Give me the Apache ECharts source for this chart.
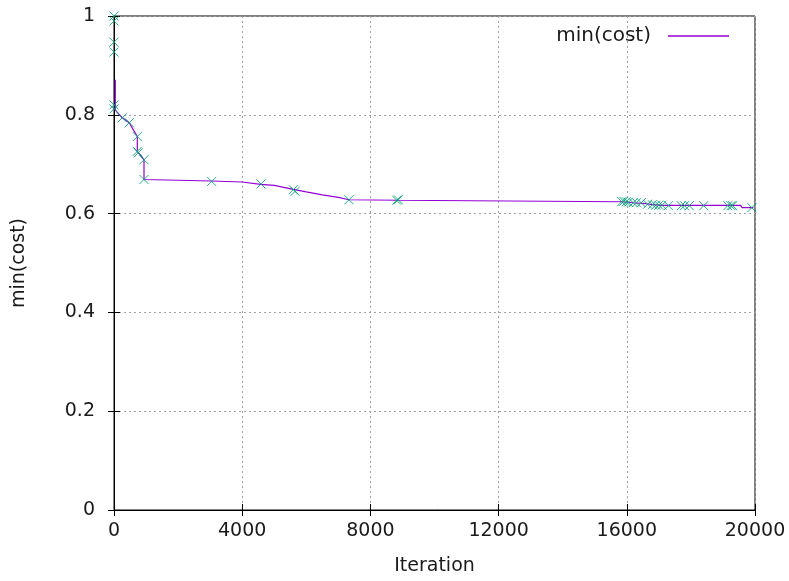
<!DOCTYPE html>
<html><head><meta charset="utf-8">
<script src="https://cdn.jsdelivr.net/npm/echarts@6/dist/echarts.min.js"></script>
<style>html,body{margin:0;padding:0;background:#fff}#c{width:789px;height:581px}</style>
</head><body><div id="c"></div>
<script>
const xTicks = [0, 4000, 8000, 12000, 16000, 20000];
const yTicks = [0, 0.2, 0.4, 0.6, 0.8, 1];
const lineIter = [40, 40, 100, 260, 477, 600, 727, 727, 758, 936, 936, 3048, 4000, 4577, 5000, 5594, 6000, 6500, 7000, 7332, 8851, 8900, 15800, 16050, 16200, 16600, 16800, 17100, 19000, 19550, 19600, 19950];
const lineCost = [0.871, 0.81, 0.805, 0.794, 0.784, 0.77, 0.756, 0.726, 0.723, 0.709, 0.669, 0.666, 0.664, 0.659, 0.657, 0.649, 0.644, 0.638, 0.633, 0.628, 0.627, 0.625, 0.624, 0.623, 0.622, 0.62, 0.618, 0.6168, 0.6165, 0.6165, 0.612, 0.612];
const ptIter = [0, 0, 0, 0, 0, 0, 260, 477, 727, 727, 758, 936, 936, 3048, 4587, 5594, 5650, 7332, 8820, 8870, 15840, 15900, 15980, 16050, 16200, 16300, 16450, 16650, 16800, 16900, 17000, 17100, 17300, 17700, 17800, 17950, 18400, 19150, 19250, 19300, 19900];
const ptCost = [1.0, 0.99, 0.947, 0.927, 0.82, 0.812, 0.794, 0.784, 0.756, 0.726, 0.723, 0.709, 0.669, 0.665, 0.660, 0.6485, 0.645, 0.628, 0.627, 0.628, 0.624, 0.625, 0.624, 0.623, 0.622, 0.622, 0.622, 0.619, 0.618, 0.617, 0.617, 0.617, 0.616, 0.616, 0.616, 0.616, 0.616, 0.616, 0.616, 0.616, 0.612];

const font = 'DejaVu Sans';
const fs = 19;
const txt = '#1a1a1a';
const chart = echarts.init(document.getElementById('c'));
const gridLine = {show: true, lineStyle: {color: '#a0a0a0', type: [2, 3], width: 1}};
chart.setOption({
  animation: false,
  textStyle: {fontFamily: font},
  grid: {left: 114, right: 34, top: 16, bottom: 70, show: true, borderColor: '#000', borderWidth: 1},
  legend: {
    data: ['min(cost)'], right: 55, top: 21, align: 'right', icon: 'rect', itemWidth: 61, itemHeight: 1.5, itemGap: 17,
    textStyle: {fontFamily: font, fontSize: 20, color: txt, padding: [0, 12, 0, 0]}
  },
  xAxis: [{
    type: 'value', min: xTicks[0], max: xTicks[xTicks.length - 1], interval: 4000,
    name: 'Iteration', nameLocation: 'middle', nameGap: 47,
    nameTextStyle: {fontFamily: font, fontSize: fs, color: txt},
    axisLine: {show: true, onZero: false, lineStyle: {color: '#000'}},
    axisTick: {show: true, inside: true, length: 6, lineStyle: {color: '#000'}},
    axisLabel: {fontFamily: font, fontSize: fs, color: txt, margin: 12, formatter: v => String(v)},
    splitLine: gridLine
  }, {
    type: 'value', position: 'top', min: 0, max: 20000, interval: 4000,
    axisLine: {show: true, lineStyle: {color: '#000'}},
    axisTick: {show: true, inside: true, length: 6, lineStyle: {color: '#000'}},
    axisLabel: {show: false}, splitLine: {show: false}
  }],
  yAxis: [{
    type: 'value', min: 0, max: 1, interval: 0.2,
    name: 'min(cost)', nameLocation: 'middle', nameGap: 85, nameRotate: 90,
    nameTextStyle: {fontFamily: font, fontSize: fs, color: txt},
    axisLine: {show: true, onZero: false, lineStyle: {color: '#000'}},
    axisTick: {show: true, inside: true, length: 6, lineStyle: {color: '#000'}},
    axisLabel: {fontFamily: font, fontSize: fs, color: txt, margin: 19,
      formatter: v => String(+v.toFixed(1))},
    splitLine: gridLine
  }, {
    type: 'value', position: 'right', min: 0, max: 1, interval: 0.2,
    axisLine: {show: true, lineStyle: {color: '#000'}},
    axisTick: {show: true, inside: true, length: 6, lineStyle: {color: '#000'}},
    axisLabel: {show: false}, splitLine: {show: false}
  }],
  series: [{
    name: 'min(cost)', type: 'line', symbol: 'none', z: 3,
    data: lineIter.map((x, i) => [x, lineCost[i]]),
    lineStyle: {color: '#9400d3', width: 1.2},
    itemStyle: {color: '#9400d3'}
  }, {
    name: 'cost', type: 'scatter', z: 4,
    symbol: 'path://M0,0L10,10M10,0L0,10', symbolSize: 9,
    data: ptIter.map((x, i) => [x, ptCost[i]]),
    itemStyle: {color: '#009e73', borderColor: '#009e73', borderWidth: 1, opacity: 0.85}
  }]
});
</script></body></html>
